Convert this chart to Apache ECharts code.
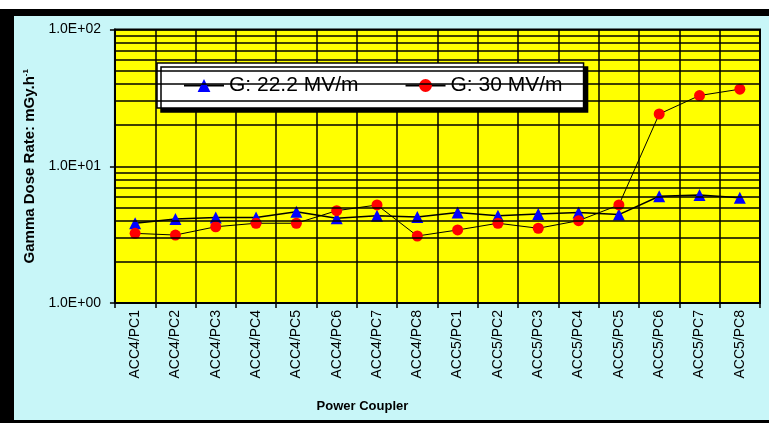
<!DOCTYPE html>
<html>
<head>
<meta charset="utf-8">
<script src="https://cdn.jsdelivr.net/npm/echarts@6/dist/echarts.min.js"></script>
<style>
  html, body { margin: 0; padding: 0; background: #ffffff; }
  #frame {
    position: absolute; left: 0; top: 9px;
    width: 769px; height: 414px; box-sizing: border-box;
    border-top: 7px solid #000; border-left: 14px solid #000; border-bottom: 3px solid #000;
    background: #c8f6f8;
  }
  #chart { width: 755px; height: 404px; }
</style>
</head>
<body>
<div id="frame"><div id="chart"></div></div>
<script>
// Power coupler positions along the two cryomodules
const couplers = [
  'ACC4/PC1', 'ACC4/PC2', 'ACC4/PC3', 'ACC4/PC4', 'ACC4/PC5', 'ACC4/PC6', 'ACC4/PC7', 'ACC4/PC8',
  'ACC5/PC1', 'ACC5/PC2', 'ACC5/PC3', 'ACC5/PC4', 'ACC5/PC5', 'ACC5/PC6', 'ACC5/PC7', 'ACC5/PC8'
];
// Gamma dose rate (mGy/h) at gradient 22.2 MV/m
const dose22 = [3.83, 4.12, 4.22, 4.22, 4.65, 4.17, 4.34, 4.26, 4.59, 4.35, 4.48, 4.59, 4.43, 6.03, 6.17, 5.88];
// Gamma dose rate (mGy/h) at gradient 30 MV/m
const dose30 = [3.23, 3.14, 3.61, 3.83, 3.83, 4.73, 5.21, 3.09, 3.42, 3.83, 3.52, 4.00, 5.21, 24.1, 32.9, 36.6];
const seriesNames = ['G: 22.2 MV/m', 'G: 30 MV/m'];
// Logarithmic axis range and the intermediate grid lines of each decade
const yMin = 1, yMax = 100;
const minorGridValues = [2, 3, 4, 5, 6, 7, 8, 9, 20, 30, 40, 50, 60, 70, 80, 90];

const fontFamily = '"Liberation Sans", Arial, sans-serif';

function sciLabel(v) {
  const e = Math.round(Math.log10(v));
  const m = v / Math.pow(10, e);
  return m.toFixed(1) + 'E' + (e < 0 ? '-' : '+') + String(Math.abs(e)).padStart(2, '0');
}

const chart = echarts.init(document.getElementById('chart'), null, { renderer: 'canvas' });
chart.setOption({
  animation: false,
  backgroundColor: 'transparent',
  textStyle: { fontFamily: fontFamily, color: '#000' },
  grid: {
    left: 100, right: 9, top: 13.5, bottom: 117,
    show: true, backgroundColor: '#ffff00', borderColor: '#000', borderWidth: 2
  },
  legend: {
    data: seriesNames,
    left: 143, top: 47,
    orient: 'horizontal',
    itemWidth: 40, itemHeight: 16, itemGap: 46,
    padding: [12, 21, 12, 26],
    backgroundColor: '#ffffff',
    borderColor: '#000', borderWidth: 1.5,
    shadowColor: '#000', shadowBlur: 0, shadowOffsetX: 4, shadowOffsetY: 4,
    textStyle: { fontSize: 21, color: '#000', fontFamily: fontFamily },
    selectedMode: false
  },
  xAxis: {
    type: 'category',
    data: couplers,
    boundaryGap: true,
    axisLine: { show: true, lineStyle: { color: '#000', width: 2 } },
    axisTick: { show: true, interval: 0, length: 5, lineStyle: { color: '#000', width: 1.5 } },
    axisLabel: { interval: 0, rotate: 90, margin: 7, fontSize: 14, color: '#000', fontFamily: fontFamily },
    splitLine: { show: true, interval: 0, lineStyle: { color: '#000', width: 1.5 } },
    name: 'Power Coupler',
    nameLocation: 'middle',
    nameGap: 97,
    nameTextStyle: { fontSize: 13, fontWeight: 'bold', color: '#000', padding: [0, 150, 0, 0], fontFamily: fontFamily }
  },
  yAxis: {
    type: 'log',
    logBase: 10,
    min: yMin, max: yMax,
    axisLine: { show: true, lineStyle: { color: '#000', width: 2 } },
    axisTick: { show: true, length: 5, lineStyle: { color: '#000', width: 1.5 } },
    axisLabel: { margin: 14, fontSize: 14, color: '#000', formatter: sciLabel, fontFamily: fontFamily },
    splitLine: { show: true, lineStyle: { color: '#000', width: 1.5 } },
    name: 'Gamma Dose Rate: mGy.h{sup|-1}',
    nameLocation: 'middle',
    nameGap: 76,
    nameRotate: 90,
    nameTextStyle: {
      fontSize: 15, fontWeight: 'bold', color: '#000', fontFamily: fontFamily,
      rich: { sup: { fontSize: 8, fontWeight: 'bold', verticalAlign: 'top', color: '#000', padding: [0, 0, 8, 0] } }
    }
  },
  series: [
    {
      name: 'gridlines',
      type: 'line',
      data: [],
      z: 1,
      silent: true,
      markLine: {
        silent: true,
        symbol: 'none',
        label: { show: false },
        lineStyle: { type: 'solid', color: '#000', width: 1.5 },
        data: minorGridValues.map(v => ({ yAxis: v }))
      }
    },
    {
      name: seriesNames[0],
      type: 'line',
      data: dose22,
      z: 3,
      symbol: 'triangle',
      symbolSize: [12, 12],
      itemStyle: { color: '#0000ff' },
      lineStyle: { color: '#000', width: 1.5 }
    },
    {
      name: seriesNames[1],
      type: 'line',
      data: dose30,
      z: 4,
      symbol: 'circle',
      symbolSize: 11,
      itemStyle: { color: '#ff0000' },
      lineStyle: { color: '#000', width: 1 }
    }
  ]
});
</script>
</body>
</html>
